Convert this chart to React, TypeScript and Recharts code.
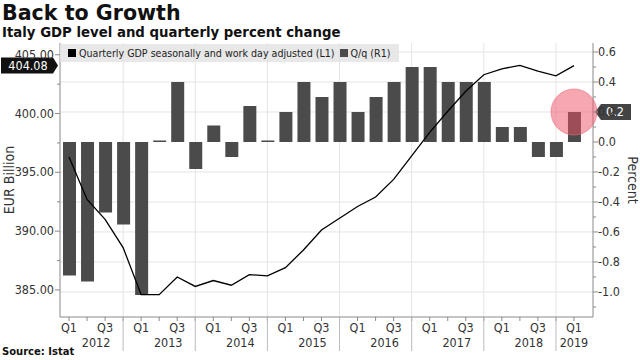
import React from "react";
import {
  ComposedChart,
  Bar,
  Line,
  XAxis,
  YAxis,
  CartesianGrid,
  ReferenceLine,
  ReferenceDot,
  Legend,
} from "recharts";

const periods = [
  "Q1 2012", "Q2 2012", "Q3 2012", "Q4 2012",
  "Q1 2013", "Q2 2013", "Q3 2013", "Q4 2013",
  "Q1 2014", "Q2 2014", "Q3 2014", "Q4 2014",
  "Q1 2015", "Q2 2015", "Q3 2015", "Q4 2015",
  "Q1 2016", "Q2 2016", "Q3 2016", "Q4 2016",
  "Q1 2017", "Q2 2017", "Q3 2017", "Q4 2017",
  "Q1 2018", "Q2 2018", "Q3 2018", "Q4 2018",
  "Q1 2019",
];

// EUR billion, left axis
const gdpLevel = [
  396.3, 392.7, 391.0, 388.6,
  384.6, 384.6, 386.1, 385.3,
  385.8, 385.4, 386.3, 386.2,
  386.9, 388.4, 390.1, 391.1,
  392.1, 392.9, 394.4, 396.4,
  398.4, 400.2, 401.9, 403.3,
  403.8, 404.1, 403.6, 403.2,
  404.08,
];

// q/q percent change, right axis
const qoqChange = [
  -0.89, -0.93, -0.47, -0.55,
  -1.02, 0.01, 0.4, -0.18,
  0.11, -0.1, 0.24, 0.01,
  0.2, 0.4, 0.3, 0.4,
  0.2, 0.3, 0.4, 0.5,
  0.5, 0.4, 0.4, 0.4,
  0.1, 0.1, -0.1, -0.1,
  0.2,
];

const leftTicks = [385, 387.5, 390, 392.5, 395, 397.5, 400, 402.5, 405];
const rightTicks = [
  0.6, 0.5, 0.4, 0.3, 0.2, 0.1, 0, -0.1, -0.2, -0.3, -0.4, -0.5,
  -0.6, -0.7, -0.8, -0.9, -1.0, -1.1,
];
const rightGrid = [0.6, 0.4, 0.2, -0.2, -0.4, -0.6, -0.8, -1.0];
const yearGrid = periods.filter((p) => p.startsWith("Q4"));

const data = periods.map((period, i) => ({
  period,
  gdp: gdpLevel[i],
  qoq: qoqChange[i],
}));

const lastGdp = gdpLevel[gdpLevel.length - 1];
const lastQoq = qoqChange[qoqChange.length - 1];

const FONT = "'Liberation Sans Narrow', 'DejaVu Sans Condensed', 'Liberation Sans', sans-serif";
const TEXT = "#333";
const AXIS = "#8a8a8a";
const GRID = "#e4e4e4";
const BAR = "#4b4b4b";

const LeftTick = ({ x, y, payload }: any) => {
  const major = payload.value % 5 === 0;
  return (
    <g>
      <line x1={x - (major ? 5 : 3)} x2={x} y1={y} y2={y} stroke={AXIS} />
      {major && (
        <text x={x - 6} y={y} dy={4} textAnchor="end" fontSize={12.5} fill={TEXT} fontFamily={FONT}>
          {payload.value.toFixed(2)}
        </text>
      )}
    </g>
  );
};

const RightTick = ({ x, y, payload }: any) => {
  const major = Math.round(payload.value * 10) % 2 === 0;
  return (
    <g>
      <line x1={x} x2={x + (major ? 5 : 3)} y1={y} y2={y} stroke={AXIS} />
      {major && (
        <text x={x + 5} y={y} dy={4} textAnchor="start" fontSize={12.5} fill={TEXT} fontFamily={FONT}>
          {payload.value.toFixed(1)}
        </text>
      )}
    </g>
  );
};

const XTick = ({ x, y, payload }: any) => {
  const [q, yr] = String(payload.value).split(" ");
  const isLast = payload.value === periods[periods.length - 1];
  return (
    <g fontFamily={FONT} fill={TEXT}>
      <line x1={x} x2={x} y1={y} y2={y + 4} stroke={AXIS} />
      {(q === "Q1" || q === "Q3") && (
        <text x={x} y={y + 15} textAnchor="middle" fontSize={12.5} fill={TEXT}>
          {q}
        </text>
      )}
      {(q === "Q2" || isLast) && (
        <text x={isLast ? x : x + 9} y={y + 30} textAnchor="middle" fontSize={12.5} fill={TEXT}>
          {yr}
        </text>
      )}
      {q === "Q4" && <line x1={x} x2={x} y1={y} y2={y + 34} stroke="#bbb" />}
    </g>
  );
};

const LegendBox = () => (
  <div
    style={{
      background: "rgba(228,228,228,0.85)",
      fontFamily: FONT,
      fontSize: 10.6,
      color: "#222",
      padding: "3px 8px 3px 8px",
      whiteSpace: "nowrap",
      display: "inline-block",
    }}
  >
    <span style={{ display: "inline-block", width: 8, height: 8, background: "#000", marginRight: 3 }} />
    Quarterly GDP seasonally and work day adjusted (L1)
    <span style={{ display: "inline-block", width: 8, height: 8, background: BAR, margin: "0 3px 0 5px" }} />
    Q/q (R1)
  </div>
);

const LevelTag = ({ viewBox }: any) => {
  const { x, y } = viewBox;
  return (
    <g>
      <polygon
        points={`${x - 59},${y - 8} ${x - 7},${y - 8} ${x - 2},${y} ${x - 7},${y + 8} ${x - 59},${y + 8}`}
        fill="#111"
      />
      <text x={x - 32} y={y} dy={4.5} textAnchor="middle" fontSize={12.5} fill="#fff" fontFamily={FONT}>
        {lastGdp.toFixed(2)}
      </text>
    </g>
  );
};

const ChangeTag = ({ viewBox }: any) => {
  const { x, y, width } = viewBox;
  const r = x + width;
  return (
    <g>
      <polygon
        points={`${r + 2},${y} ${r + 8},${y - 8} ${r + 38},${y - 8} ${r + 38},${y + 8} ${r + 8},${y + 8}`}
        fill="#444"
      />
      <text x={r + 22} y={y} dy={4.5} textAnchor="middle" fontSize={12.5} fill="#fff" fontFamily={FONT}>
        {lastQoq.toFixed(1)}
      </text>
    </g>
  );
};

export default function App() {
  return (
    <div style={{ position: "absolute", left: 0, top: 0, width: 640, height: 360, background: "#fff" }}>
      <div
        style={{
          position: "absolute",
          left: 2,
          top: 1,
          fontFamily: "'DejaVu Sans', sans-serif",
          fontWeight: "bold",
          fontSize: 20.6,
          color: "#111",
          lineHeight: "24px",
        }}
      >
        Back to Growth
      </div>
      <div
        style={{
          position: "absolute",
          left: 2,
          top: 24,
          fontFamily: "'DejaVu Sans', sans-serif",
          fontWeight: "bold",
          fontSize: 13.3,
          color: "#111",
          lineHeight: "18px",
        }}
      >
        Italy GDP level and quarterly percent change
      </div>
      <div
        style={{
          position: "absolute",
          left: 2,
          top: 345,
          fontFamily: "'DejaVu Sans', sans-serif",
          fontWeight: "bold",
          fontSize: 10,
          color: "#111",
          lineHeight: "13px",
        }}
      >
        Source: Istat
      </div>
      <ComposedChart
        width={640}
        height={360}
        data={data}
        margin={{ top: 43, right: 0, bottom: 0, left: 0 }}
      >
        <CartesianGrid
          yAxisId="right"
          stroke={GRID}
          horizontalValues={rightGrid}
          verticalValues={yearGrid}
        />
        <XAxis
          dataKey="period"
          interval={0}
          height={43}
          padding={{ left: 0, right: 10 }}
          tickLine={false}
          tickSize={0}
          tickMargin={0}
          axisLine={{ stroke: AXIS }}
          tick={<XTick />}
        />
        <YAxis
          yAxisId="left"
          orientation="left"
          width={60}
          domain={[382.7, 406]}
          ticks={leftTicks}
          interval={0}
          tickLine={false}
          tickSize={0}
          tickMargin={0}
          axisLine={{ stroke: AXIS }}
          tick={<LeftTick />}
          label={{
            value: "EUR Billion",
            angle: -90,
            position: "insideLeft",
            offset: 9,
            style: { textAnchor: "middle", fontSize: 14, fill: TEXT, fontFamily: FONT },
          }}
        />
        <YAxis
          yAxisId="right"
          orientation="right"
          width={47}
          domain={[-1.167, 0.66]}
          ticks={rightTicks}
          interval={0}
          tickLine={false}
          tickSize={0}
          tickMargin={0}
          axisLine={{ stroke: AXIS }}
          tick={<RightTick />}
          label={{
            value: "Percent",
            angle: 90,
            position: "insideRight",
            offset: 7,
            style: { textAnchor: "middle", fontSize: 14, fill: TEXT, fontFamily: FONT },
          }}
        />
        <Legend
          layout="vertical"
          align="center"
          verticalAlign="middle"
          wrapperStyle={{ top: 43, left: 60, width: "auto" }}
          content={<LegendBox />}
        />
        <Bar yAxisId="right" dataKey="qoq" fill={BAR} barSize={13} isAnimationActive={false} />
        <Line
          yAxisId="left"
          dataKey="gdp"
          type="linear"
          stroke="#000"
          strokeWidth={1.3}
          dot={false}
          isAnimationActive={false}
        />
        <ReferenceDot
          yAxisId="right"
          x={periods[periods.length - 1]}
          y={lastQoq}
          r={23}
          fill="rgba(238,80,100,0.5)"
          stroke="rgba(230,110,125,0.6)"
        />
        <ReferenceLine yAxisId="left" y={lastGdp} stroke="none" label={<LevelTag />} />
        <ReferenceLine yAxisId="right" y={lastQoq} stroke="none" label={<ChangeTag />} />
      </ComposedChart>
    </div>
  );
}
